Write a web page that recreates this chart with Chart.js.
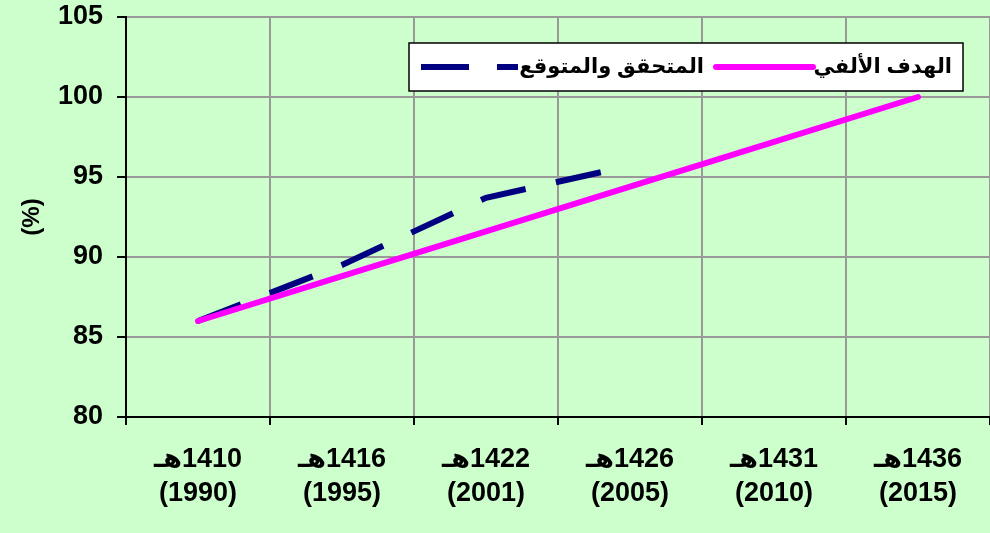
<!DOCTYPE html>
<html>
<head>
<meta charset="utf-8">
<script src="https://cdn.jsdelivr.net/npm/chart.js@4"></script>
<style>
  body { margin: 0; background: #ccffcc; }
  #wrap { width: 990px; height: 533px; }
</style>
</head>
<body>
<div id="wrap"><canvas id="myLineChart"></canvas></div>
<script>
// line chart - millennium goal vs achieved

const hijriYears = ["1410", "1416", "1422", "1426", "1431", "1436"];
const gregYears = ["1990", "1995", "2001", "2005", "2010", "2015"];
const targetValues = [86, 88.8, 91.6, 94.4, 97.2, 100];
const actualValues = [86, 89.5, 93.7, 95.7, null, null];
const targetName = "الهدف الألفي";
const actualName = "المتحقق والمتوقع";
const yTicks = [80, 85, 90, 95, 100, 105];

let xLabels = hijriYears.map((h, i) => ["هـ\u200E" + h, "(" + gregYears[i] + ")"]);

// legend box drawn inside the plot like the excel one
const boxLegend = {
    id: "boxLegend",
    afterDraw(chart) {
        const ctx = chart.ctx;
        ctx.save();
        ctx.fillStyle = "#ffffff";
        ctx.fillRect(409, 43, 554, 48);
        ctx.strokeStyle = "#000000";
        ctx.lineWidth = 1.5;
        ctx.strokeRect(409, 43, 554, 48);

        // dashed sample
        ctx.strokeStyle = "#000080";
        ctx.lineWidth = 6;
        ctx.setLineDash([48, 28]);
        ctx.beginPath();
        ctx.moveTo(421, 67);
        ctx.lineTo(518, 67);
        ctx.stroke();
        ctx.setLineDash([]);

        // solid sample
        ctx.strokeStyle = "#ff00ff";
        ctx.lineCap = "round";
        ctx.beginPath();
        ctx.moveTo(716, 67);
        ctx.lineTo(813, 67);
        ctx.stroke();

        ctx.fillStyle = "#000000";
        ctx.font = "bold 21px Arial, 'DejaVu Sans'";
        ctx.textBaseline = "middle";
        ctx.textAlign = "right";
        ctx.direction = "rtl";
        ctx.fillText(targetName, 952, 67);
        ctx.fillText(actualName, 704, 67);
        ctx.restore();
    }
};

const chartData = {
    type: "line",
    data: {
        labels: xLabels,
        datasets: [{
            label: targetName,
            data: targetValues,
            borderColor: "#ff00ff",
            borderWidth: 6,
            borderCapStyle: "round",
            pointRadius: 0,
            tension: 0
        }, {
            label: actualName,
            data: actualValues,
            borderColor: "#000080",
            borderWidth: 6,
            borderDash: [46, 31],
            pointRadius: 0,
            tension: 0
        }]
    },
    options: {
        responsive: true,
        maintainAspectRatio: false,
        animation: false,
        layout: { padding: { top: 17, right: 0, left: 0, bottom: 0 } },
        plugins: {
            legend: { display: false },
            tooltip: { enabled: false }
        },
        scales: {
            x: {
                offset: true,
                grid: {
                    offset: true,
                    color: "#999999",
                    lineWidth: 2,
                    tickLength: 8,
                    tickColor: "#000000"
                },
                border: { color: "#000000", width: 2 },
                ticks: {
                    color: "#000000",
                    padding: 18,
                    maxRotation: 0,
                    font: { family: "'Liberation Sans Narrow', Arial, 'DejaVu Sans'", size: 27, weight: "bold", lineHeight: 1.25 }
                },
                afterFit: s => { s.height = 116; s.paddingLeft = 0; s.paddingRight = 0; }
            },
            y: {
                min: 80,
                max: 105,
                afterBuildTicks: s => { s.ticks = yTicks.map(v => ({ value: v })); },
                grid: {
                    color: "#999999",
                    lineWidth: 2,
                    tickLength: 9,
                    tickColor: "#000000"
                },
                border: { color: "#000000", width: 2 },
                ticks: {
                    color: "#000000",
                    padding: 14,
                    font: { family: "Arial", size: 27, weight: "bold" }
                },
                title: {
                    display: true,
                    text: "(%)",
                    color: "#000000",
                    padding: { top: 18, bottom: 0 },
                    font: { family: "Arial", size: 24, weight: "bold" }
                },
                afterFit: s => { s.width = 126; s.paddingTop = 0; s.paddingBottom = 0; }
            }
        }
    },
    plugins: [boxLegend]
};

let lineChart = new Chart("myLineChart", chartData);
</script>
</body>
</html>
